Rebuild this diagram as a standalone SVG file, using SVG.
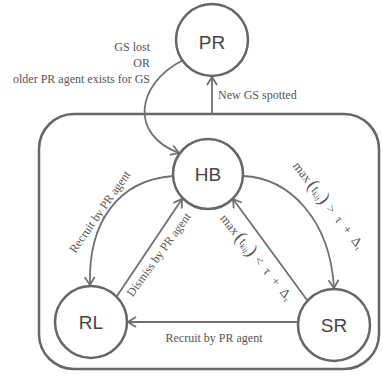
<svg xmlns="http://www.w3.org/2000/svg" width="383" height="379" viewBox="0 0 383 379">
<style>
.node{fill:#fff;stroke:#666;stroke-width:2.5}
.nl{font-family:"Liberation Sans",Arial,sans-serif;font-size:19px;fill:#454545;text-anchor:middle}
.edge{fill:none;stroke:#707070;stroke-width:1.8}
.lbl{font-family:"Liberation Serif","Times New Roman",serif;font-size:12px;fill:#555}
.mx{font-size:13px}
.par{font-size:19px}
.sub{font-size:8px}
</style>
<defs>
<marker id="arr" viewBox="0 0 10 12" refX="9" refY="6" markerWidth="10" markerHeight="12" markerUnits="userSpaceOnUse" orient="auto">
<path d="M1,1 L9,6 L1,11" fill="none" stroke="#707070" stroke-width="1.8" stroke-linejoin="miter"/>
</marker>
</defs>
<rect id="container" x="39" y="114" width="340" height="255" rx="35" ry="35" fill="none" stroke="#666" stroke-width="2.5"/>
<g id="connectors">
<path class="edge" d="M183,60 C135,85 130,135 179,153" marker-end="url(#arr)"/>
<path class="edge" d="M212,114 L212,77" marker-end="url(#arr)"/>
<path class="edge" d="M173,176 C120,180 88,220 90,285" marker-end="url(#arr)"/>
<path class="edge" d="M117,296 L182,199" marker-end="url(#arr)"/>
<path class="edge" d="M243,176 C290,178 330,220 334,288" marker-end="url(#arr)"/>
<path class="edge" d="M307,300 L233,199" marker-end="url(#arr)"/>
<path class="edge" d="M298,322 L128,322" marker-end="url(#arr)"/>
<text class="lbl" text-anchor="end" x="150" y="51">GS lost</text>
<text class="lbl" text-anchor="end" x="150" y="67">OR</text>
<text class="lbl" text-anchor="end" x="150" y="83">older PR agent exists for GS</text>
<text class="lbl" x="218" y="99">New GS spotted</text>
<text class="lbl" text-anchor="middle" transform="translate(103,214) rotate(-55)">Recruit by PR agent</text>
<text class="lbl" text-anchor="middle" transform="translate(162,257) rotate(-54)">Dismiss by PR agent</text>
<text class="lbl" text-anchor="middle" x="214" y="342">Recruit by PR agent</text>
<text class="lbl mx" text-anchor="middle" transform="translate(325,208) rotate(52)">max<tspan class="par" dx="2" dy="1">(</tspan><tspan dy="-1">t</tspan><tspan class="sub" dy="2">kij</tspan><tspan class="par" dy="-1">)</tspan><tspan dx="5" dy="-1">&gt;</tspan><tspan dx="7">τ</tspan><tspan dx="7">+</tspan><tspan dx="7">Δ</tspan><tspan class="sub" dy="2">τ</tspan></text>
<text class="lbl mx" text-anchor="middle" transform="translate(253,260) rotate(51)">max<tspan class="par" dx="2" dy="1">(</tspan><tspan dy="-1">t</tspan><tspan class="sub" dy="2">kij</tspan><tspan class="par" dy="-1">)</tspan><tspan dx="5" dy="-1">&lt;</tspan><tspan dx="7">τ</tspan><tspan dx="7">+</tspan><tspan dx="7">Δ</tspan><tspan class="sub" dy="2">τ</tspan></text>
</g>
<g id="PR"><circle class="node" cx="212" cy="40" r="36"/><text class="nl" x="212" y="49">PR</text></g>
<g id="HB"><circle class="node" cx="208" cy="174" r="35"/><text class="nl" x="208" y="181">HB</text></g>
<g id="RL"><circle class="node" cx="91" cy="322" r="36"/><text class="nl" x="91" y="329">RL</text></g>
<g id="SR"><circle class="node" cx="334" cy="325" r="36"/><text class="nl" x="334" y="332">SR</text></g>
</svg>
